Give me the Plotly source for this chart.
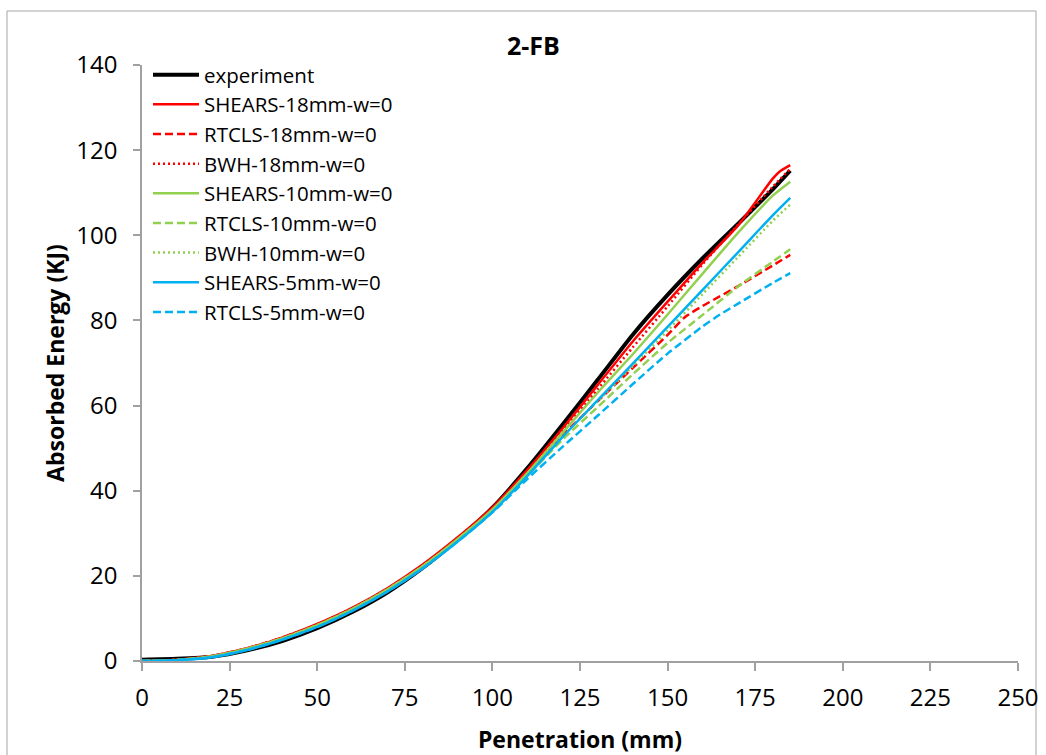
import plotly.graph_objects as go

# ---- data ----
x_common = [0, 10, 20, 30, 40, 50, 60, 70, 80, 90, 100, 110, 120, 130, 140, 150, 160, 170, 180, 185]
x_shears18 = [0, 10, 20, 30, 40, 50, 60, 70, 80, 90, 100, 110, 120, 130, 140, 150, 160, 170, 180, 182, 185]
x_rtcls18 = [0, 10, 20, 30, 40, 50, 60, 70, 80, 90, 100, 110, 120, 130, 140, 150, 155, 160, 165, 170, 180, 185]
x_rtcls5 = [0, 10, 20, 30, 40, 50, 60, 70, 80, 90, 100, 110, 120, 130, 140, 150, 160, 165, 170, 180, 185]

experiment = [0.3, 0.5, 1.0, 2.5, 4.7, 7.7, 11.5, 16.1, 21.8, 28.5, 36.0, 45.3, 55.5, 66.0, 76.6, 86.0, 94.6, 102.6, 110.8, 115.2]
shears_18 = [0, 0.3, 1.2, 3.0, 5.5, 8.7, 12.5, 17.1, 22.6, 29.0, 36.1, 44.9, 54.6, 64.8, 75.0, 84.4, 93.6, 102.2, 113.3, 115.0, 116.5]
rtcls_18 = [0, 0.3, 1.2, 3.0, 5.5, 8.6, 12.4, 16.9, 22.4, 28.7, 35.8, 44.2, 53.0, 61.0, 68.8, 76.6, 80.8, 83.4, 85.7, 88.0, 92.9, 95.4]
bwh_18 = [0, 0.3, 1.2, 3.0, 5.5, 8.6, 12.4, 16.9, 22.4, 28.7, 35.8, 44.5, 54.0, 63.8, 73.6, 83.3, 93.2, 102.4, 111.4, 115.6]
shears_10 = [0, 0.25, 1.1, 2.9, 5.3, 8.4, 12.2, 16.8, 22.2, 28.6, 35.6, 44.2, 53.6, 63.0, 72.0, 81.4, 91.0, 100.5, 109.3, 112.6]
rtcls_10 = [0, 0.25, 1.1, 2.9, 5.3, 8.4, 12.2, 16.8, 22.2, 28.5, 35.3, 43.5, 52.0, 59.6, 67.3, 74.7, 81.3, 87.9, 93.8, 96.7]
bwh_10 = [0, 0.25, 1.1, 2.9, 5.3, 8.4, 12.2, 16.8, 22.2, 28.5, 35.4, 43.8, 52.7, 61.0, 69.2, 77.6, 86.2, 94.8, 103.4, 107.2]
shears_5 = [0, 0.2, 0.9, 2.6, 5.0, 8.0, 11.8, 16.3, 21.7, 28.0, 35.0, 43.5, 52.6, 61.2, 69.8, 78.5, 87.2, 95.9, 104.7, 108.8]
rtcls_5 = [0, 0.2, 0.9, 2.6, 5.0, 8.0, 11.8, 16.3, 21.7, 28.0, 34.9, 42.8, 50.3, 57.6, 65.0, 72.2, 78.6, 81.4, 83.9, 88.8, 91.1]

x_ticks = [0, 25, 50, 75, 100, 125, 150, 175, 200, 225, 250]
y_ticks = [0, 20, 40, 60, 80, 100, 120, 140]

RED = "#FF0000"
GREEN = "#92D050"
BLUE = "#00B0F0"
DASH = "8px,4px"
DOT = "2px,3px"

series = [
    ("experiment", x_common, experiment, "black", "solid", 4),
    ("SHEARS-18mm-w=0", x_shears18, shears_18, RED, "solid", 2.5),
    ("RTCLS-18mm-w=0", x_rtcls18, rtcls_18, RED, DASH, 2.5),
    ("BWH-18mm-w=0", x_common, bwh_18, RED, DOT, 2.5),
    ("SHEARS-10mm-w=0", x_common, shears_10, GREEN, "solid", 2.5),
    ("RTCLS-10mm-w=0", x_common, rtcls_10, GREEN, DASH, 2.5),
    ("BWH-10mm-w=0", x_common, bwh_10, GREEN, DOT, 2.5),
    ("SHEARS-5mm-w=0", x_common, shears_5, BLUE, "solid", 2.5),
    ("RTCLS-5mm-w=0", x_rtcls5, rtcls_5, BLUE, DASH, 2.5),
]

fig = go.Figure()
for name, xs, ys, color, dash, width in series:
    fig.add_trace(go.Scatter(
        x=xs, y=ys, name=name, mode="lines",
        line=dict(color=color, dash=dash, width=width, shape="spline", smoothing=0.6),
    ))

FONT = "Open Sans"
AX = "#A0A0A0"

fig.update_layout(
    width=1046, height=755,
    margin=dict(l=142, r=28, t=65, b=94, autoexpand=False),
    paper_bgcolor="white", plot_bgcolor="white",
    showlegend=True,
    legend=dict(
        x=(148 - 142) / 876, y=1.017, xanchor="left", yanchor="top",
        bgcolor="rgba(0,0,0,0)", borderwidth=0,
        font=dict(family=FONT, size=20.5, color="black"),
        itemwidth=46, tracegroupgap=0,
    ),
    xaxis=dict(
        range=[0, 250], tickvals=x_ticks, ticktext=[str(v) for v in x_ticks],
        showgrid=False, zeroline=False, showline=True, linecolor=AX, linewidth=1.5,
        ticks="outside", ticklen=8, tickcolor=AX, tickwidth=1.5,
        tickfont=dict(family=FONT, size=24, color="black"),
        ticklabelstandoff=6, automargin=False,
        title=dict(text="<b>Penetration (mm)</b>", font=dict(family=FONT, size=23, color="black"), standoff=22),
    ),
    yaxis=dict(
        range=[0, 140], tickvals=y_ticks, ticktext=[str(v) for v in y_ticks],
        showgrid=False, zeroline=False, showline=True, linecolor=AX, linewidth=1.5,
        ticks="outside", ticklen=7, tickcolor=AX, tickwidth=1.5,
        tickfont=dict(family=FONT, size=24, color="black"),
        ticklabelstandoff=11, automargin=False,
        title=dict(text="<b>Absorbed Energy (KJ)</b>", font=dict(family=FONT, size=23, color="black"), standoff=5),
    ),
    annotations=[dict(
        text="<b>2-FB</b>", xref="paper", yref="paper",
        x=(533 - 142) / 876, y=(661 - 45) / 596, xanchor="center", yanchor="middle",
        showarrow=False, font=dict(family=FONT, size=25, color="black"),
    )],
    shapes=[dict(
        type="rect", xref="paper", yref="paper",
        x0=(7 - 142) / 876, x1=(1036 - 142) / 876,
        y0=(661 - 770) / 596, y1=(661 - 11) / 596,
        line=dict(color="#A6A6A6", width=1), fillcolor="rgba(0,0,0,0)", layer="below",
    )],
)

fig.write_html(
    "out.html",
    config={"displayModeBar": False},
    post_script="document.body.style.margin='0';document.body.style.overflow='hidden';",
)
